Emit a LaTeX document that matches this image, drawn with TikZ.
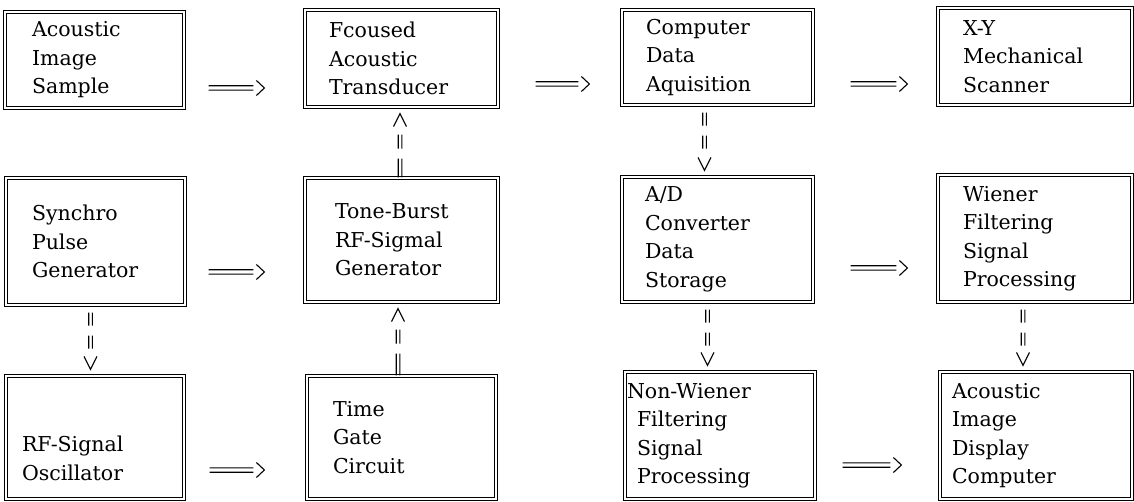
\documentclass[tikz,border=0pt]{standalone}
\usepackage{fontspec}
\setmainfont{DejaVu Serif}
\usetikzlibrary{calc}
\tikzset{
  unitbox/.style={draw, double, double distance=1.8pt, line width=1.2pt,
    rectangle, align=left, inner ysep=0pt,
    font=\fontsize{20.5}{28.5}\selectfont},
  rail/.style={line width=1.1pt},
}
% block: name, x1, y1, x2, y2 (pixels, y downward), left inset, text
\newcommand\unitblock[7]{%
  \pgfmathsetmacro\ubw{#4-#2}%
  \pgfmathsetmacro\ubh{#5-#3}%
  \pgfmathsetmacro\ubt{#4-#2-2*#6}%
  \node[unitbox, minimum width=\ubw pt, minimum height=\ubh pt,
        text width=\ubt pt, inner xsep=#6pt] (#1)
        at ({(#2+#4)/2},{(#3+#5)/2}) {#7};}
% horizontal "==>" link: from, to, gap after source, gap before target, pixel y
\newcommand\hlink[5]{%
  \draw[rail] let \p1=(#1.east), \p2=(#2.west) in
    (\x1+#3pt,-#5pt+2.2pt) -- (\x2-#4pt-11pt,-#5pt+2.2pt)
    (\x1+#3pt,-#5pt-2.2pt) -- (\x2-#4pt-11pt,-#5pt-2.2pt)
    (\x2-#4pt-8pt,-#5pt+7.5pt) -- (\x2-#4pt,-#5pt) -- (\x2-#4pt-8pt,-#5pt-7.5pt);}
% downward "|| || V" link: from, to, x offset
\newcommand\vdown[3]{%
  \draw[rail] let \p1=(#1.south), \p2=(#2.north) in
    (\x1+#3pt-1.8pt,\y1-7pt) -- (\x1+#3pt-1.8pt,\y1-20pt)
    (\x1+#3pt+1.8pt,\y1-7pt) -- (\x1+#3pt+1.8pt,\y1-20pt)
    (\x1+#3pt-1.8pt,\y1-30pt) -- (\x1+#3pt-1.8pt,\y1-43pt)
    (\x1+#3pt+1.8pt,\y1-30pt) -- (\x1+#3pt+1.8pt,\y1-43pt)
    (\x1+#3pt-6.5pt,\y2+19pt) -- (\x1+#3pt,\y2+6pt) -- (\x1+#3pt+6.5pt,\y2+19pt);}
% upward "^ || ||" link: from (lower), to (upper), x offset
\newcommand\vup[3]{%
  \draw[rail] let \p1=(#1.north), \p2=(#2.south) in
    (\x1+#3pt-6.5pt,\y2-19pt) -- (\x1+#3pt,\y2-6pt) -- (\x1+#3pt+6.5pt,\y2-19pt)
    (\x1+#3pt-1.8pt,\y2-27pt) -- (\x1+#3pt-1.8pt,\y2-41pt)
    (\x1+#3pt+1.8pt,\y2-27pt) -- (\x1+#3pt+1.8pt,\y2-41pt)
    (\x1+#3pt-1.8pt,\y2-51pt) -- (\x1+#3pt-1.8pt,\y1)
    (\x1+#3pt+1.8pt,\y2-51pt) -- (\x1+#3pt+1.8pt,\y1);}
\begin{document}
\begin{tikzpicture}[x=1pt,y=-1pt]
\useasboundingbox (0,0) rectangle (1134,502);
% row 1
\unitblock{A}{5}{12}{184}{108}{27}{Acoustic\\Image\\Sample}
\unitblock{B}{305}{10}{498}{107}{24}{Fcoused\\Acoustic\\Transducer}
\unitblock{C}{622}{10}{813}{105}{24}{Computer\\Data\\Aquisition}
\unitblock{D}{938}{8}{1132}{105}{25}{X-Y\\Mechanical\\Scanner}
% row 2
\unitblock{E}{6}{178}{185}{305}{26}{Synchro\\Pulse\\Generator}
\unitblock{F}{305}{178}{498}{302}{30}{Tone-Burst\\RF-Sigmal\\Generator}
\unitblock{G}{622}{177}{813}{302}{23}{A/D\\Converter\\Data\\Storage}
\unitblock{H}{938}{175}{1132}{302}{25}{Wiener\\Filtering\\Signal\\Processing}
% row 3
\unitblock{I}{6}{376}{184}{499}{16}{\mbox{}\\\mbox{}\\RF-Signal\\Oscillator}
\unitblock{J}{307}{376}{496}{499}{26}{Time\\Gate\\Circuit}
\unitblock{K}{625}{372}{815}{499}{2}{Non-Wiener\\\hspace*{10pt}Filtering\\\hspace*{10pt}Signal\\\hspace*{10pt}Processing}
\unitblock{L}{940}{372}{1132}{499}{12}{Acoustic\\Image\\Display\\Computer}
% horizontal links
\hlink{A}{B}{24}{40}{88}
\hlink{B}{C}{37}{32}{84}
\hlink{C}{D}{37}{30}{84}
\hlink{E}{F}{23}{40}{272}
\hlink{G}{H}{37}{30}{268}
\hlink{I}{J}{25}{42}{470}
\hlink{K}{L}{27}{38}{465}
% vertical links
\vdown{C}{G}{-13}
\vdown{E}{I}{-5}
\vdown{G}{K}{-10}
\vdown{H}{L}{-12}
\vup{F}{B}{-1.5}
\vup{J}{F}{-3.5}
\end{tikzpicture}
\end{document}
